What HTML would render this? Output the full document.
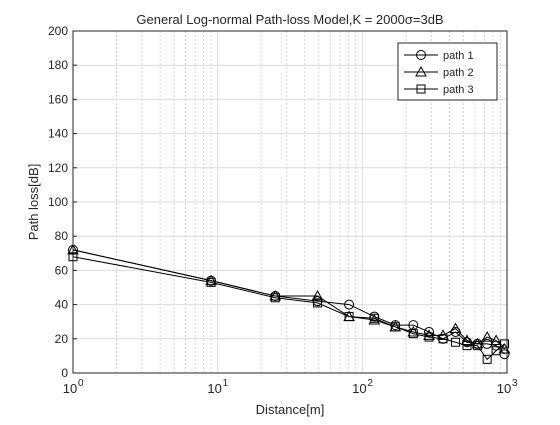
<!DOCTYPE html>
<html><head><meta charset="utf-8"><style>
body{margin:0;background:#fff;}
svg text{font-family:"Liberation Sans",sans-serif;fill:#262626;}
</style></head><body>
<svg id="chart" width="560" height="420" viewBox="0 0 560 420" xmlns="http://www.w3.org/2000/svg">
<rect width="560" height="420" fill="#fff"/>
<g id="grid"></g><g id="axes"></g><g id="series"></g><g id="legend"></g>
</svg>
<script>
const distances=[1,9,25,49,81,121,169,225,289,361,441,529,625,729,841,961];
const path1=[72,54,45,42,40,33,28,28,24,20,24,18,17,17,16,11];
const path2=[72,54,45,45,33,31,27,24,22,22,26,19,17,21,19,14];
const path3=[68,53,44,41,33,32,27,23,21,20,18,16,16,8,13,17];
const yTicks=[0,20,40,60,80,100,120,140,160,180,200];
const seriesNames=["path 1","path 2","path 3"];
const X0=73,X1=507,Y0=373,Y1=31;
const xs=v=>X0+(X1-X0)*Math.log10(v)/3;
const ys=v=>Y0-(Y0-Y1)*v/200;
const NS="http://www.w3.org/2000/svg";
function mk(parent,tag,attrs){const e=document.createElementNS(NS,tag);for(const k in attrs)e.setAttribute(k,attrs[k]);parent.appendChild(e);return e;}
const grid=document.getElementById('grid'),axes=document.getElementById('axes'),ser=document.getElementById('series'),leg=document.getElementById('legend');
mk(grid,'rect',{x:X0,y:Y1,width:X1-X0,height:Y0-Y1,fill:'#fff'});
for(let d=0;d<3;d++)for(let m=1;m<=9;m++){const v=Math.pow(10,d)*m;const x=xs(v);
 const l=mk(grid,'line',{x1:x,x2:x,y1:Y1,y2:Y0,stroke:m===1?'#dcdcdc':'#d4d4d4','stroke-width':1,'stroke-dasharray':m===1?'':'2,2'});
 }
yTicks.forEach(t=>{const y=ys(t);
 const l=mk(grid,'line',{x1:X0,x2:X1,y1:y,y2:y,stroke:'#dcdcdc'});
 
 mk(axes,'line',{x1:X0,x2:X0+4,y1:y,y2:y,stroke:'#262626'});
 const tx=mk(axes,'text',{x:X0-5,y:y+4,'text-anchor':'end','font-size':12});tx.textContent=t;
 });
mk(axes,'rect',{x:X0,y:Y1,width:X1-X0,height:Y0-Y1,fill:'none',stroke:'#262626'});
[0,1,2,3].forEach(p=>{const x=xs(Math.pow(10,p));
 const t=mk(axes,'text',{x:x-3,y:Y0+20,'font-size':13,'text-anchor':'middle'});t.textContent='10';
 const s=mk(axes,'text',{x:x+5,y:Y0+13,'font-size':10});s.textContent=p;
 });
const xt=mk(axes,'text',{x:290,y:414,'text-anchor':'middle','font-size':13});xt.textContent='Distance[m]';

const yt=mk(axes,'text',{x:0,y:0,'text-anchor':'middle','font-size':13,transform:'translate(38,202) rotate(-90)'});yt.textContent='Path loss[dB]';

const tt=mk(axes,'text',{x:290,y:24,'text-anchor':'middle','font-size':13});tt.textContent='General Log-normal Path-loss Model,K = 2000σ=3dB';

function marker(g,type,x,y){
 if(type===0)return mk(g,'circle',{cx:x,cy:y,r:4.5,fill:'none',stroke:'#000'});
 if(type===1)return mk(g,'polygon',{points:`${x},${y-5} ${x-5},${y+4} ${x+5},${y+4}`,fill:'none',stroke:'#000'});
 return mk(g,'rect',{x:x-4,y:y-4,width:8,height:8,fill:'none',stroke:'#000'});}
[path1,path2,path3].forEach((arr,i)=>{
 const g=mk(ser,'g',{});
 mk(g,'polyline',{points:arr.map((v,j)=>xs(distances[j])+','+ys(v)).join(' '),fill:'none',stroke:'#000','stroke-width':1});
 arr.forEach((v,j)=>{const m=marker(g,i,xs(distances[j]),ys(v));});
});
const lb=mk(leg,'rect',{x:398,y:43,width:99,height:57,fill:'#fff',stroke:'#262626'});

seriesNames.forEach((n,i)=>{const y=55+i*17;
 mk(leg,'line',{x1:404,x2:438,y1:y,y2:y,stroke:'#000'});marker(leg,i,421,y);
 const t=mk(leg,'text',{x:443,y:y+4,'font-size':11});t.textContent=n;
 });
</script>
</body></html>
